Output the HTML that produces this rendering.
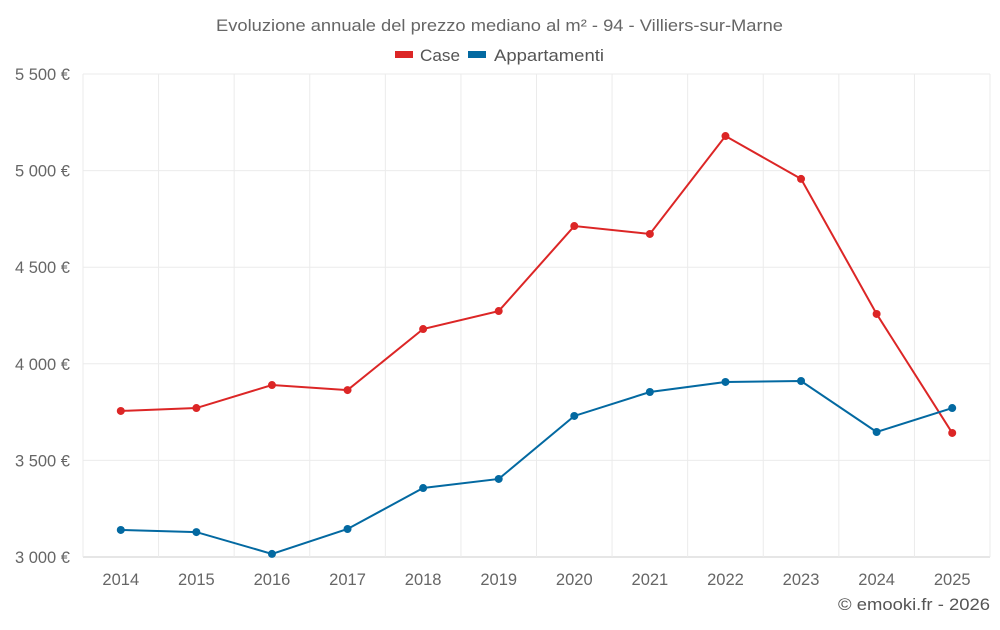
<!DOCTYPE html>
<html><head><meta charset="utf-8"><style>
body{margin:0;background:#fff;font-family:"Liberation Sans",sans-serif;}
svg text{font-family:"Liberation Sans",sans-serif;}
</style></head><body>
<svg id="chart" width="1000" height="625">
<text x="216" y="31" textLength="567" lengthAdjust="spacingAndGlyphs" font-size="16.5" fill="#666">Evoluzione annuale del prezzo mediano al m² - 94 - Villiers-sur-Marne</text>
<g>
<g><rect x="395" y="51" width="18" height="7" fill="#dc2626"/><text x="420" y="61" textLength="40" lengthAdjust="spacingAndGlyphs" font-size="16.5" fill="#555">Case</text></g>
<g><rect x="468" y="51" width="18" height="7" fill="#0369a1"/><text x="494" y="61" textLength="110" lengthAdjust="spacingAndGlyphs" font-size="16.5" fill="#555">Appartamenti</text></g>
</g>
<g id="grid"></g><g id="axes"></g><g id="series"></g>
<text x="838" y="610" textLength="152" lengthAdjust="spacingAndGlyphs" font-size="16.5" fill="#555">© emooki.fr - 2026</text>
</svg>
<script>
const years=["2014","2015","2016","2017","2018","2019","2020","2021","2022","2023","2024","2025"];
const caseValues=[3756,3771,3890,3864,4180,4273,4713,4672,5179,4957,4258,3642];
const appValues=[3140,3129,3016,3145,3357,3404,3730,3854,3906,3911,3647,3771];
const yTicks=[3000,3500,4000,4500,5000,5500];
const yTickLabels=["3 000 €","3 500 €","4 000 €","4 500 €","5 000 €","5 500 €"];
const L=83,R=990,T=74,B=557,yMin=3000,yMax=5500;
const band=(R-L)/years.length;
const xs=i=>L+band*(i+0.5);
const ys=v=>B-(v-yMin)/(yMax-yMin)*(B-T);
const NS="http://www.w3.org/2000/svg";
function mk(t,a,p){const e=document.createElementNS(NS,t);for(const k in a)e.setAttribute(k,a[k]);p.appendChild(e);return e;}
const grid=document.getElementById('grid'),axes=document.getElementById('axes'),ser=document.getElementById('series');
yTicks.forEach((v,i)=>{
 const l=mk('line',{x1:L,x2:R,y1:ys(v),y2:ys(v),stroke:i==0?'#ccc':'#ebebeb'},grid);
 
 
 const t=mk('text',{x:70,y:ys(v)+6,'text-anchor':'end','font-size':16.5,fill:'#666'},axes);
 t.textContent=yTickLabels[i];
 
 
});
for(let i=0;i<=years.length;i++){
 const l=mk('line',{x1:L+band*i,x2:L+band*i,y1:T,y2:B,stroke:'#ebebeb'},grid);
 
 
}
years.forEach((y,i)=>{
 const t=mk('text',{x:xs(i),y:585,'text-anchor':'middle','font-size':16.5,fill:'#666'},axes);
 t.textContent=y;
 
 
});
function draw(vals,color,name){
 const p=mk('polyline',{points:vals.map((v,i)=>xs(i)+','+ys(v)).join(' '),fill:'none',stroke:color,'stroke-width':2},ser);
 
 
 vals.forEach((v,i)=>{
  const c=mk('circle',{cx:xs(i),cy:ys(v),r:4,fill:color},ser);
  
  
 });
}
draw(caseValues,'#dc2626','case');
draw(appValues,'#0369a1','appartamenti');
</script>
</body></html>
